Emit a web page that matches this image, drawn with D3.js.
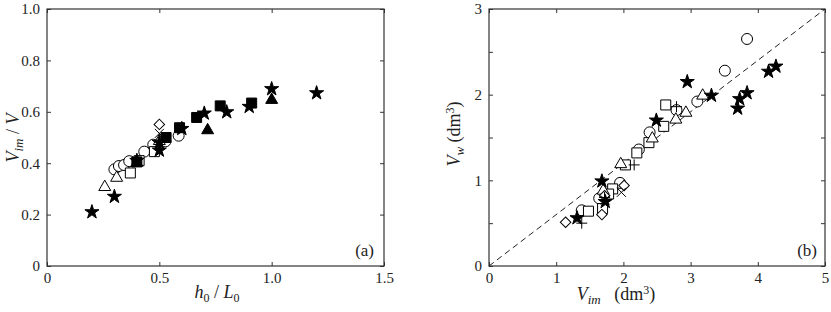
<!DOCTYPE html>
<html>
<head>
<meta charset="UTF-8">
<script src="https://d3js.org/d3.v7.min.js"></script>
<style>
  body { margin: 0; background: #fff; }
  text { font-family: "Liberation Serif", "Tinos", "DejaVu Serif", serif; fill: #222; }
</style>
</head>
<body>
<div id="chart"></div>
<script>
// panel (a): h0/L0 vs Vim/V
const aStar = [[0.2,0.21],[0.3,0.27],[0.40,0.41],[0.5,0.45],[0.5,0.48],[0.6,0.534],[0.7,0.594],[0.8,0.599],[0.9,0.62],[1.0,0.689],[1.2,0.673]];
const aSquareFilled = [[0.40,0.405],[0.53,0.50],[0.59,0.538],[0.666,0.578],[0.771,0.623],[0.911,0.634]];
const aTriangleFilled = [[0.715,0.532],[1.0,0.65]];
const aCircle = [[0.30,0.376],[0.32,0.389],[0.343,0.393],[0.366,0.408],[0.433,0.445],[0.473,0.472],[0.527,0.485],[0.586,0.507]];
const aSquare = [[0.371,0.362],[0.478,0.445],[0.41,0.41]];
const aTriangle = [[0.257,0.311],[0.31,0.347],[0.40,0.405],[0.50,0.49]];
const aDiamond = [[0.5,0.551]];
const aCross = [[0.5,0.516]];

// panel (b): Vim vs Vw
const bCircle = [[3.84,2.65],[3.51,2.28],[3.10,1.92],[2.79,1.82],[2.39,1.56],[2.23,1.36],[1.95,0.97],[1.64,0.79],[1.38,0.65]];
const bStar = [[2.95,2.15],[4.16,2.27],[4.27,2.33],[3.84,2.02],[3.73,1.95],[3.70,1.84],[3.31,1.99],[2.49,1.70],[1.68,0.99],[1.31,0.56],[1.73,0.75]];
const bTriangle = [[3.18,2.00],[2.93,1.80],[2.78,1.72],[2.43,1.50],[1.96,1.20],[1.70,0.89]];
const bSquare = [[2.63,1.88],[2.60,1.63],[2.38,1.44],[2.20,1.32],[2.03,1.18],[1.84,0.90],[1.78,0.84],[1.69,0.67],[1.48,0.64]];
const bPlus = [[2.79,1.86],[2.16,1.18],[1.38,0.50],[1.72,0.80]];
const bCross = [[1.97,0.86],[1.73,0.77]];
const bDiamond = [[2.01,0.94],[1.68,0.60],[1.14,0.51],[1.72,0.82]];
const bLine = [[0,0],[5,3]];

const aXTicks = [0, 0.5, 1.0, 1.5];
const aYTicks = [0, 0.2, 0.4, 0.6, 0.8, 1.0];
const bXTicks = [0, 1, 2, 3, 4, 5];
const bYTicks = [0, 0.5, 1, 1.5, 2, 2.5, 3];
const bYLabels = [0, 1, 2, 3];

const W = 831, H = 312;
const FONT = '"Liberation Serif", "Tinos", "DejaVu Serif", serif';
const svg = d3.select('#chart').append('svg').attr('width', W).attr('height', H);

// custom stroke symbols
const plusPath = r => `M${-r},0H${r}M0,${-r}V${r}`;
const xPath = r => `M${-r},${-r}L${r},${r}M${-r},${r}L${r},${-r}`;

function drawMarks(g, x, y, data, kind) {
  const sel = g.selectAll(null).data(data).enter().append('path')
    .attr('transform', d => `translate(${x(d[0])},${y(d[1])})` + (kind === 'diamond' ? ' rotate(45)' : ''))
    .attr('stroke', '#000').attr('stroke-width', 1);
  const sym = {
    circle: d3.symbol(d3.symbolCircle, 95)(),
    square: d3.symbol(d3.symbolSquare, 100)(),
    diamond: d3.symbol(d3.symbolSquare, 55)(),
    triangle: d3.symbol(d3.symbolTriangle, 62)(),
    star: d3.symbol(d3.symbolStar, 62)(),
    plus: plusPath(5.5),
    cross: xPath(4.5)
  };
  const filled = kind === 'star' || kind === 'squareFilled' || kind === 'triangleFilled';
  const shape = kind === 'squareFilled' ? 'square' : kind === 'triangleFilled' ? 'triangle' : kind;
  sel.attr('d', sym[shape])
    .attr('fill', filled ? '#000' : (shape === 'plus' || shape === 'cross' ? 'none' : '#fff'));
  if (shape === 'triangle') sel.attr('transform', d => `translate(${x(d[0])},${y(d[1]) + 1})`);
}

function panel(box, xDom, yDom, xTicks, yTicks, xFmt, yLabelVals, yFmt) {
  const x = d3.scaleLinear().domain(xDom).range([box.l, box.r]);
  const y = d3.scaleLinear().domain(yDom).range([box.b, box.t]);
  const g = svg.append('g');
  const style = ax => {
    ax.attr('font-family', FONT);
    ax.select('.domain').remove();
    ax.selectAll('line').attr('stroke', '#333');
  };
  g.append('g').attr('transform', `translate(0,${box.b})`)
    .call(d3.axisBottom(x).tickValues(xTicks).tickSize(-4).tickPadding(6).tickFormat(xFmt))
    .call(style);
  g.append('g').attr('transform', `translate(0,${box.t})`)
    .call(d3.axisTop(x).tickValues(xTicks).tickSize(-4).tickFormat(''))
    .call(style);
  g.append('g').attr('transform', `translate(${box.l},0)`)
    .call(d3.axisLeft(y).tickValues(yTicks).tickSize(-4).tickPadding(7)
      .tickFormat(v => yLabelVals.includes(v) ? yFmt(v) : ''))
    .call(style);
  g.append('g').attr('transform', `translate(${box.r},0)`)
    .call(d3.axisRight(y).tickValues(yTicks).tickSize(-4).tickFormat(''))
    .call(style);
  g.selectAll('.tick text').attr('font-size', 15).attr('fill', '#222');
  g.append('rect').attr('x', box.l).attr('y', box.t)
    .attr('width', box.r - box.l).attr('height', box.b - box.t)
    .attr('fill', 'none').attr('stroke', '#333').attr('stroke-width', 1.2);
  return { g, x, y };
}

// panel (a)
const A = panel({ l: 47, r: 384, t: 9, b: 266 }, [0, 1.5], [0, 1.0], aXTicks, aYTicks,
  v => v === 0 ? '0' : d3.format('.1f')(v), aYTicks, v => v === 0 ? '0' : d3.format('.1f')(v));
const am = A.g.append('g');
drawMarks(am, A.x, A.y, aCircle, 'circle');
drawMarks(am, A.x, A.y, aSquare, 'square');
drawMarks(am, A.x, A.y, aTriangle, 'triangle');
drawMarks(am, A.x, A.y, aDiamond, 'diamond');
drawMarks(am, A.x, A.y, aCross, 'cross');
drawMarks(am, A.x, A.y, aSquareFilled, 'squareFilled');
drawMarks(am, A.x, A.y, aTriangleFilled, 'triangleFilled');
drawMarks(am, A.x, A.y, aStar, 'star');

svg.append('text').attr('x', 374).attr('y', 256).attr('text-anchor', 'end')
  .attr('font-size', 17).text('(a)');
const ax = svg.append('text').attr('x', 217).attr('y', 298).attr('text-anchor', 'middle').attr('font-size', 18);
ax.append('tspan').attr('font-style', 'italic').text('h');
ax.append('tspan').attr('font-size', 12).attr('dy', 4).text('0');
ax.append('tspan').attr('dy', -4).text(' / ');
ax.append('tspan').attr('font-style', 'italic').text('L');
ax.append('tspan').attr('font-size', 12).attr('dy', 4).text('0');
const ay = svg.append('text').attr('transform', 'translate(19,138) rotate(-90)')
  .attr('text-anchor', 'middle').attr('font-size', 18);
ay.append('tspan').attr('font-style', 'italic').text('V');
ay.append('tspan').attr('font-style', 'italic').attr('font-size', 13).attr('dy', 4).text('im');
ay.append('tspan').attr('dy', -4).text('\u00a0/\u00a0');
ay.append('tspan').attr('font-style', 'italic').text('V');

// panel (b)
const B = panel({ l: 489, r: 825, t: 9, b: 266 }, [0, 5], [0, 3], bXTicks, bYTicks,
  d3.format('d'), bYLabels, d3.format('d'));
B.g.append('path').datum(bLine)
  .attr('d', d3.line().x(d => B.x(d[0])).y(d => B.y(d[1])))
  .attr('stroke', '#222').attr('stroke-width', 1).attr('stroke-dasharray', '6,4').attr('fill', 'none');
const bm = B.g.append('g');
drawMarks(bm, B.x, B.y, bCircle, 'circle');
drawMarks(bm, B.x, B.y, bSquare, 'square');
drawMarks(bm, B.x, B.y, bTriangle, 'triangle');
drawMarks(bm, B.x, B.y, bDiamond, 'diamond');
drawMarks(bm, B.x, B.y, bCross, 'cross');
drawMarks(bm, B.x, B.y, bPlus, 'plus');
drawMarks(bm, B.x, B.y, bStar, 'star');

svg.append('text').attr('x', 817).attr('y', 256).attr('text-anchor', 'end')
  .attr('font-size', 17).text('(b)');
const bx = svg.append('text').attr('x', 616).attr('y', 300).attr('text-anchor', 'middle').attr('font-size', 18);
bx.append('tspan').attr('font-style', 'italic').text('V');
bx.append('tspan').attr('font-style', 'italic').attr('font-size', 13).attr('dy', 4).text('im');
bx.append('tspan').attr('dy', -4).text('\u00a0\u00a0\u00a0(dm');
bx.append('tspan').attr('font-size', 12).attr('dy', -6).text('3');
bx.append('tspan').attr('dy', 6).text(')');
const by = svg.append('text').attr('transform', 'translate(460,134) rotate(-90)')
  .attr('text-anchor', 'middle').attr('font-size', 18);
by.append('tspan').attr('font-style', 'italic').text('V');
by.append('tspan').attr('font-style', 'italic').attr('font-size', 13).attr('dy', 4).text('w');
by.append('tspan').attr('dy', -4).text(' (dm');
by.append('tspan').attr('font-size', 12).attr('dy', -6).text('3');
by.append('tspan').attr('dy', 6).text(')');
</script>
</body>
</html>
